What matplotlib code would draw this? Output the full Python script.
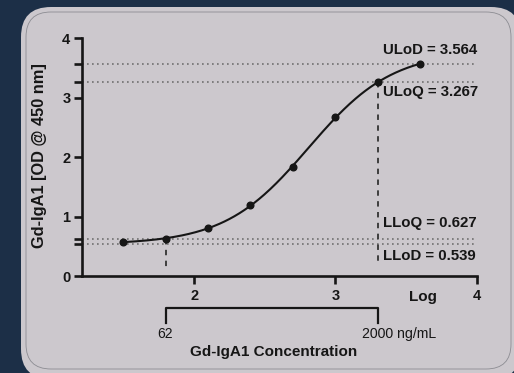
import numpy as np
import matplotlib.pyplot as plt
from matplotlib.patches import FancyBboxPatch

# --- data ---
conc_ng_ml = [31.25, 62.5, 125, 250, 500, 1000, 2000, 4000]
od_450 = [0.57, 0.627, 0.82, 1.20, 1.84, 2.68, 3.267, 3.564]
limit_names = ['ULoD', 'ULoQ', 'LLoQ', 'LLoD']
limit_values = [3.564, 3.267, 0.627, 0.539]
range_low, range_high = 62.5, 2000
x_ticks = [2, 3, 4]
y_ticks = [0, 1, 2, 3, 4]

x = np.log10(conc_ng_ml)
y = np.array(od_450)

# 4PL fit: grid search over midpoint / slope, linear solve for bottom / span
best = None
for c in np.linspace(2.0, 3.6, 161):
    for h in np.linspace(0.4, 3.0, 131):
        s = 1.0 / (1.0 + 10 ** (h * (c - x)))
        M = np.column_stack([np.ones_like(s), s])
        coef, *_ = np.linalg.lstsq(M, y, rcond=None)
        sse = np.sum((M @ coef - y) ** 2)
        if best is None or sse < best[0]:
            best = (sse, c, h, coef)
_, c_fit, h_fit, (a_fit, b_fit) = best
xf = np.linspace(x[0], x[-1], 300)
yf = a_fit + b_fit / (1.0 + 10 ** (h_fit * (c_fit - xf)))

navy = '#1c2f47'
panel = '#ccc8cd'
ink = '#161616'
plt.rcParams['font.family'] = ['Liberation Sans', 'DejaVu Sans']

fig = plt.figure(figsize=(5.14, 3.73), dpi=100)
fig.patch.set_facecolor(navy)

# background card, drawn in pixel units
bg = fig.add_axes([0, 0, 1, 1], zorder=-5)
bg.set_xlim(0, 514)
bg.set_ylim(373, 0)
bg.axis('off')
bg.add_patch(FancyBboxPatch((21, 7), 500, 372, boxstyle='round,pad=0,rounding_size=30',
                            facecolor=panel, edgecolor='none'))
bg.add_patch(FancyBboxPatch((26, 12), 485, 357, boxstyle='round,pad=0,rounding_size=25',
                            facecolor='none', edgecolor='#8c8c92', linewidth=0.6))

ax = fig.add_axes([81.5 / 514, (373 - 276.3) / 373, 395 / 514, 238 / 373])
ax.set_facecolor('none')
ax.set_xlim(1.2, 4)
ax.set_ylim(0, 4)

for sp in ['top', 'right']:
    ax.spines[sp].set_visible(False)
for sp in ['left', 'bottom']:
    ax.spines[sp].set_linewidth(1.9)
    ax.spines[sp].set_color(ink)

# limit lines
for v in limit_values:
    ax.plot([1.2, 4.0], [v, v], linestyle=(0, (1, 2)), color='#707070', lw=1.2,
            clip_on=False, zorder=1)

# vertical dashed drop lines at quantitation range
ax.plot([np.log10(range_low)] * 2, [0.627, 0.15], linestyle=(0, (3, 3)),
        color='#333333', lw=1.3)
ax.plot([np.log10(range_high)] * 2, [3.267, 0.18], linestyle=(0, (3, 3)),
        color='#333333', lw=1.3)

ax.plot(xf, yf, color=ink, lw=1.5, zorder=3)
ax.plot(x, y, 'o', color=ink, markersize=4.8, zorder=4)

ax.set_xticks(x_ticks)
ax.set_xticklabels([str(t) for t in x_ticks])
ax.set_yticks(y_ticks + limit_values)
ax.set_yticklabels([str(t) for t in y_ticks] + [''] * len(limit_values))
ax.tick_params(axis='both', width=1.9, length=5.5, color=ink, labelcolor=ink,
               labelsize=10.5)
ax.tick_params(axis='x', pad=4)
ax.tick_params(axis='y', pad=2.5)
for lab in ax.get_xticklabels() + ax.get_yticklabels():
    lab.set_fontweight('bold')

ax.set_ylabel('Gd-IgA1 [OD @ 450 nm]', fontsize=11.8, fontweight='bold', color=ink)
ax.yaxis.set_label_coords(-0.088, 0.506)

ax.text(3.62, -0.34, 'Log', ha='center', va='center', fontsize=11,
        fontweight='bold', color=ink, clip_on=False)

# annotations
ann_y = [3.81, 3.09, 0.9, 0.34]
for name, v, ty in zip(limit_names, limit_values, ann_y):
    ax.text(3.34, ty, f'{name} = {v:.3f}', ha='left', va='center',
            fontsize=10.8, fontweight='bold', color=ink)

# concentration range bracket under the axis
lx, hx = np.log10(range_low), np.log10(range_high)
ax.plot([lx, lx, hx, hx], [-0.78, -0.538, -0.538, -0.78], color=ink, lw=1.6,
        clip_on=False)
ax.text(lx, -0.97, '62', ha='center', va='center', fontsize=10, color=ink,
        clip_on=False)
ax.text(hx - 0.115, -0.97, '2000 ng/mL', ha='left', va='center', fontsize=10.2,
        color=ink, clip_on=False)
ax.text(2.56, -1.265, 'Gd-IgA1 Concentration', ha='center', va='center',
        fontsize=11, fontweight='bold', color=ink, clip_on=False)

fig.savefig('out.png', dpi=100, facecolor=navy)
